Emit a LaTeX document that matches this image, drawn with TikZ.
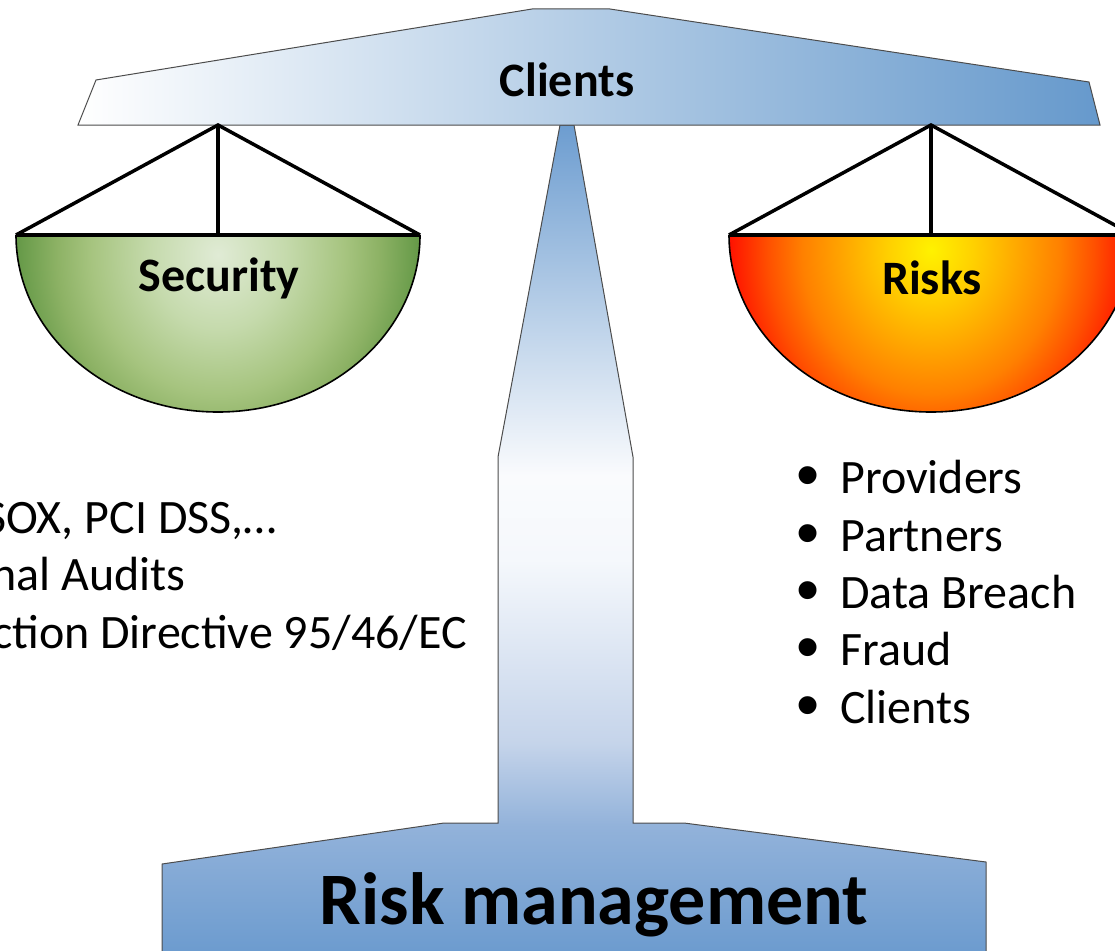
\documentclass[tikz,border=0pt]{standalone}
\usepackage{fontspec}
\setmainfont{Carlito}
\newfontfamily\bulfont{Liberation Sans}
\definecolor{beamblue}{HTML}{6699CC}
\definecolor{colblue}{HTML}{6D9DD0}
\definecolor{cb1}{HTML}{FAFBFD}
\definecolor{cb2}{HTML}{F5F8FC}
\definecolor{cb3}{HTML}{C5D4EA}
\definecolor{cb4}{HTML}{92B2DA}
\definecolor{cb5}{HTML}{6A9ACE}
\definecolor{gc0}{HTML}{E0EBD5}
\definecolor{gc1}{HTML}{C5DAAC}
\definecolor{gc2}{HTML}{A6C47F}
\definecolor{gc3}{HTML}{8DB265}
\definecolor{gc4}{HTML}{6B9D4C}
\definecolor{gc5}{HTML}{5A8F40}
\definecolor{rc0}{HTML}{FFF200}
\definecolor{rc1}{HTML}{FFD000}
\definecolor{rc2}{HTML}{FFA800}
\definecolor{rc3}{HTML}{FF8000}
\definecolor{rc4}{HTML}{FF5000}
\definecolor{rc5}{HTML}{FF1800}
\definecolor{rc6}{HTML}{F00000}
\definecolor{rc7}{HTML}{C80000}
\pgfdeclareverticalshading{colsh}{100bp}{color(0bp)=(cb5); color(25bp)=(cb5); color(33bp)=(cb4); color(38bp)=(cb3); color(49bp)=(cb2); color(54bp)=(cb1); color(75bp)=(colblue); color(100bp)=(colblue)}
\pgfdeclareradialshading{greenpan}{\pgfpoint{0bp}{0bp}}{color(0bp)=(gc0); color(8bp)=(gc1); color(15bp)=(gc2); color(19bp)=(gc3); color(23bp)=(gc4); color(25bp)=(gc5); color(50bp)=(gc5)}
\pgfdeclareradialshading{redpan}{\pgfpoint{0bp}{0bp}}{color(0bp)=(rc0); color(5bp)=(rc1); color(10bp)=(rc2); color(15bp)=(rc3); color(19bp)=(rc4); color(23bp)=(rc5); color(25bp)=(rc6); color(28bp)=(rc7); color(50bp)=(rc7)}
\tikzset{
  rope/.style={line width=3.5pt, black},
  rim/.style={line width=4pt, black},
  panedge/.style={draw=black, line width=1.6pt},
  outline/.style={draw=black!70, line width=1pt},
  lbl/.style={font=\fontsize{48}{56}\selectfont\bfseries, inner sep=0pt},
  txt/.style={font=\fontsize{48}{56}\selectfont, inner sep=0pt},
}
\newcommand{\bul}[1]{\makebox[44pt][l]{\smash{\fontsize{66}{66}\bulfont\raisebox{-4pt}{•}}}#1}
\begin{document}
\begin{tikzpicture}[x=1pt,y=1pt]
\useasboundingbox (0,0) rectangle (1115,-950);
\clip (0,0) rectangle (1115,-950);
% column and base
\path[outline, shading=colsh]
  (560,-125) -- (574,-125) -- (633,-457) -- (633,-823) -- (684,-823) -- (986,-862)
  -- (986,-960) -- (162,-960) -- (162,-864) -- (444,-823) -- (498,-823) -- (498,-457) -- cycle;
% beam
\path[outline, left color=white, right color=beamblue]
  (78,-125) -- (96,-80) -- (532,-9) -- (610,-9) -- (1089,-82) -- (1100,-125) -- cycle;
\node[lbl] (clients) at (567,-80) {Clients};
% left pan
\coordinate (la) at (218,-125);
\coordinate (ll) at (16,-235);
\coordinate (lr) at (420,-235);
\coordinate (lc) at (218,-235);
\draw[rope] (ll) -- (la) -- (lr);
\draw[rope] (la) -- (lc);
\begin{scope}
  \clip (ll) arc[start angle=180, end angle=360, x radius=202, y radius=177] -- cycle;
  \path[shading=greenpan] (218,-255) ellipse[x radius=212, y radius=232];
\end{scope}
\draw[panedge] (ll) arc[start angle=180, end angle=360, x radius=202, y radius=177];
\draw[rim] (ll) -- (lr);
\node[lbl] (security) at (219,-278) {Security};
% right pan
\coordinate (ra) at (931,-125);
\coordinate (rl) at (729,-235);
\coordinate (rr) at (1133,-235);
\coordinate (rc) at (931,-235);
\draw[rope] (rl) -- (ra) -- (rr);
\draw[rope] (ra) -- (rc);
\begin{scope}
  \clip (rl) arc[start angle=180, end angle=360, x radius=202, y radius=177] -- cycle;
  \path[shading=redpan] (931,-250) ellipse[x radius=215, y radius=240];
\end{scope}
\draw[panedge] (rl) arc[start angle=180, end angle=360, x radius=202, y radius=177];
\draw[rim] (rl) -- (rr);
\node[lbl] (risks) at (932,-278) {Risks};
% left text
\node[txt, anchor=base east] (l1) at (277,-533) {SOX, PCI DSS,…};
\node[txt, anchor=base east] (l2) at (186,-590) {nal Audits};
\node[txt, anchor=base east] (l3) at (467,-648) {ction Directive 95/46/EC};
% right list
\node[txt, anchor=base west] (r1) at (796,-493) {\bul{Providers}};
\node[txt, anchor=base west] (r2) at (796,-551) {\bul{Partners}};
\node[txt, anchor=base west] (r3) at (796,-608) {\bul{Data Breach}};
\node[txt, anchor=base west] (r4) at (796,-665) {\bul{Fraud}};
\node[txt, anchor=base west] (r5) at (796,-723) {\bul{Clients}};
% base label
\node[font=\fontsize{74}{80}\selectfont\bfseries, inner sep=0pt] (rm) at (594,-905) {Risk management};
\end{tikzpicture}
\end{document}
